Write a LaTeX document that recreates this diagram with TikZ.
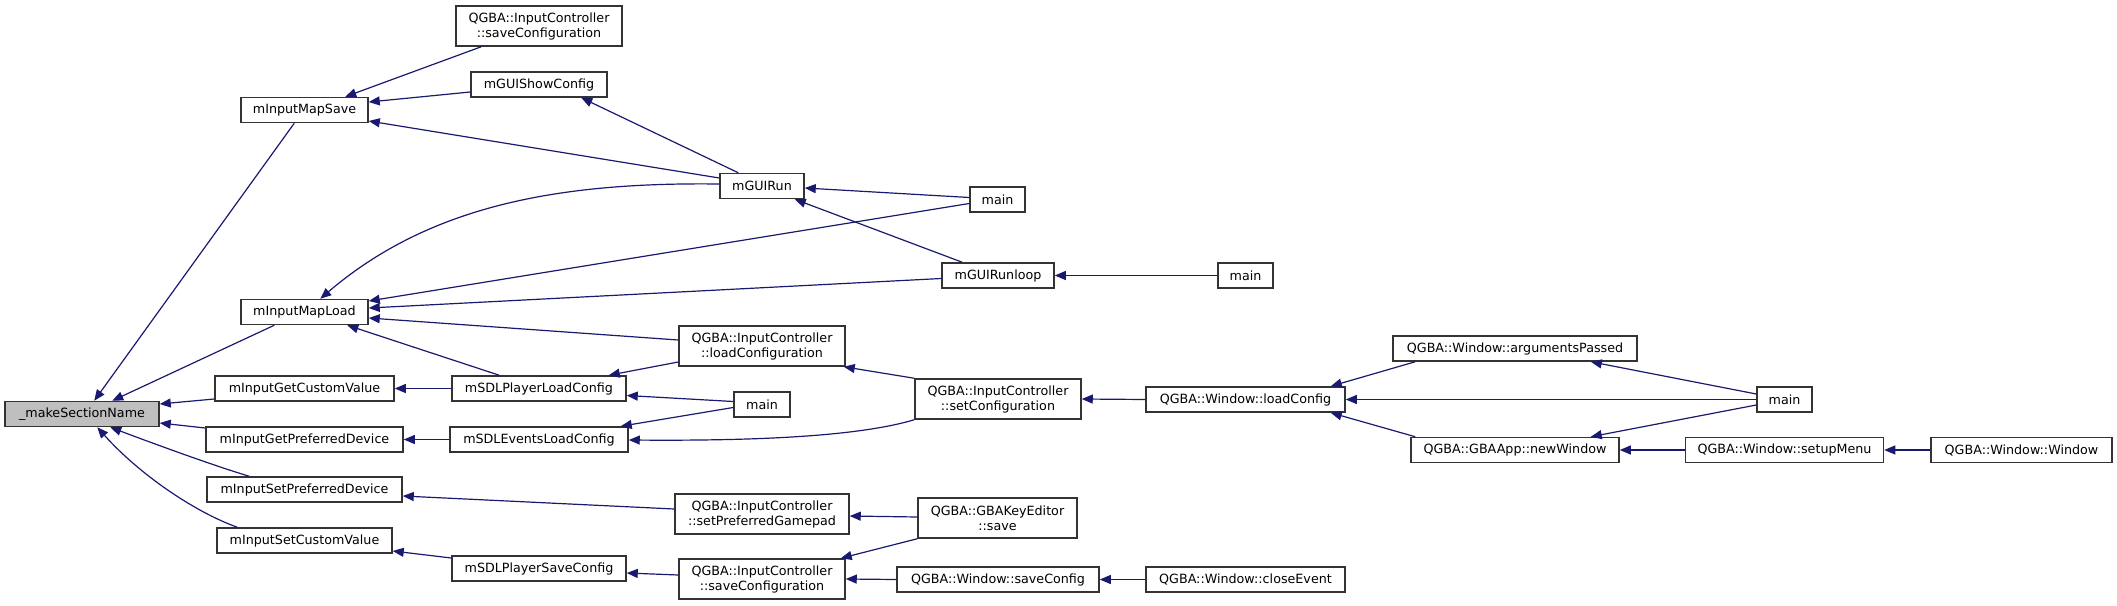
\documentclass[tikz,border=0pt]{standalone}
\usepackage{fontspec}
\setmainfont{DejaVu Sans}
\usetikzlibrary{arrows.meta,calc}
\definecolor{edgec}{HTML}{191970}
\definecolor{nodeb}{HTML}{333333}
\definecolor{selc}{HTML}{BFBFBF}
\tikzset{
  nb/.style={draw=nodeb, line width=1.5pt, fill=white, inner sep=0pt, align=center,
    font=\fontsize{12.7}{15}\selectfont},
  one/.style={minimum height=25pt},
  two/.style={minimum height=40pt},
  ed/.style={draw=edgec, line width=1.2pt, -{Triangle[length=11pt,width=9pt]}},
}
\begin{document}
\begin{tikzpicture}[x=1pt,y=-1pt]
\useasboundingbox (0,0) rectangle (2117,605);
% column 0
\node[nb, one, fill=selc, minimum width=154pt] (mSN) at (82,414) {\_makeSectionName};
% column 1
\node[nb, one, minimum width=127pt] (mIMS) at (304.5,110) {mInputMapSave};
\node[nb, one, minimum width=127pt] (mIML) at (304.5,312) {mInputMapLoad};
\node[nb, one, minimum width=179pt] (mIGCV) at (304.5,388.5) {mInputGetCustomValue};
\node[nb, one, minimum width=197pt] (mIGPD) at (304.5,439.5) {mInputGetPreferredDevice};
\node[nb, one, minimum width=195pt] (mISPD) at (304.5,489.5) {mInputSetPreferredDevice};
\node[nb, one, minimum width=175pt] (mISCV) at (304.5,540.5) {mInputSetCustomValue};
% column 2
\node[nb, two, minimum width=166pt] (icSaveTop) at (539,26) {QGBA::InputController\\::saveConfiguration};
\node[nb, one, minimum width=136pt] (mGSC) at (539,84.5) {mGUIShowConfig};
\node[nb, one, minimum width=174pt] (mSPLC) at (539,388.5) {mSDLPlayerLoadConfig};
\node[nb, one, minimum width=178pt] (mSELC) at (539,439.5) {mSDLEventsLoadConfig};
\node[nb, one, minimum width=174pt] (mSPSC) at (539,568.5) {mSDLPlayerSaveConfig};
% column 3
\node[nb, one, minimum width=84pt] (mGUIRun) at (762,186) {mGUIRun};
\node[nb, two, minimum width=166pt] (icLoad) at (762,346) {QGBA::InputController\\::loadConfiguration};
\node[nb, one, minimum width=56pt] (mainC) at (762,404.5) {main};
\node[nb, two, minimum width=174pt] (icSPG) at (762,514) {QGBA::InputController\\::setPreferredGamepad};
\node[nb, two, minimum width=166pt] (icSave) at (762,579) {QGBA::InputController\\::saveConfiguration};
% column 4
\node[nb, one, minimum width=55pt] (mainA) at (997.5,199.5) {main};
\node[nb, one, minimum width=112pt] (mGRL) at (998,275.5) {mGUIRunloop};
\node[nb, two, minimum width=166pt] (icSet) at (998,399) {QGBA::InputController\\::setConfiguration};
\node[nb, two, minimum width=159pt] (kES) at (997.5,518) {QGBA::GBAKeyEditor\\::save};
\node[nb, one, minimum width=202pt] (wSC) at (998,579.5) {QGBA::Window::saveConfig};
% column 5
\node[nb, one, minimum width=55pt] (mainB) at (1245.5,275.5) {main};
\node[nb, one, minimum width=199pt] (wLC) at (1245.5,399.5) {QGBA::Window::loadConfig};
\node[nb, one, minimum width=199pt] (wCE) at (1245.5,579.5) {QGBA::Window::closeEvent};
% column 6
\node[nb, one, minimum width=244pt] (argP) at (1515,348.5) {QGBA::Window::argumentsPassed};
\node[nb, one, minimum width=208pt] (newW) at (1515,450) {QGBA::GBAApp::newWindow};
% column 7
\node[nb, one, minimum width=55pt] (mainD) at (1784.5,399.5) {main};
\node[nb, one, minimum width=198pt] (setupM) at (1784.5,450) {QGBA::Window::setupMenu};
% column 8
\node[nb, one, minimum width=181pt] (wW) at (2021.5,450) {QGBA::Window::Window};

% edges into _makeSectionName
\draw[ed] ($(mIMS.south west)+(54,0)$) -- ($(mSN.north west)+(90,0)$);
\draw[ed] ($(mIML.south west)+(34,0)$) -- ($(mSN.north west)+(108,0)$);
\draw[ed] ($(mIGCV.west)+(0,10.5)$) -- ($(mSN.east)+(0,-10)$);
\draw[ed] ($(mIGPD.west)+(0,-11.5)$) -- ($(mSN.east)+(0,9)$);
\draw[ed] ($(mISPD.north west)+(43,0)$) .. controls (215,466) and (160,446) .. ($(mSN.south west)+(106,0)$);
\draw[ed] ($(mISCV.north west)+(21,0)$) .. controls (195,512) and (140,475) .. ($(mSN.south west)+(93,0)$);
% into mInputMapSave
\draw[ed] ($(icSaveTop.south west)+(26,0)$) -- ($(mIMS.north west)+(105,0)$);
\draw[ed] ($(mGSC.west)+(0,7.5)$) -- ($(mIMS.east)+(0,-8)$);
\draw[ed] ($(mGUIRun.west)+(0,-8)$) -- ($(mIMS.east)+(0,11)$);
% into mGUIShowConfig
\draw[ed] ($(mGUIRun.north west)+(19,0)$) -- ($(mGSC.south west)+(111,0)$);
% into mInputMapLoad
\draw[ed] ($(mGUIRun.west)+(0,-2)$) .. controls (560,182) and (430,205) .. ($(mIML.north west)+(80,0)$);
\draw[ed] ($(mainA.west)+(0,4)$) -- ($(mIML.east)+(0,-11)$);
\draw[ed] ($(mGRL.west)+(0,3)$) -- ($(mIML.east)+(0,-4)$);
\draw[ed] ($(icLoad.west)+(0,-6)$) -- ($(mIML.east)+(0,6)$);
\draw[ed] ($(mSPLC.north west)+(48,0)$) -- ($(mIML.south west)+(107,0)$);
% into mGUIRun
\draw[ed] ($(mainA.west)+(0,-2)$) -- ($(mGUIRun.east)+(0,2)$);
\draw[ed] ($(mGRL.north west)+(21,0)$) -- ($(mGUIRun.south east)+(-10,0)$);
% into mGUIRunloop
\draw[ed] (mainB.west) -- (mGRL.east);
% into mInputGetCustomValue / mSDLPlayerLoadConfig
\draw[ed] (mSPLC.west) -- (mIGCV.east);
\draw[ed] ($(icLoad.west)+(0,16)$) -- ($(mSPLC.north east)+(-18,0)$);
\draw[ed] ($(mainC.west)+(0,-3)$) -- ($(mSPLC.east)+(0,7)$);
% into mInputGetPreferredDevice / mSDLEventsLoadConfig
\draw[ed] (mSELC.west) -- (mIGPD.east);
\draw[ed] ($(mainC.west)+(0,3)$) -- ($(mSELC.north east)+(-8,0)$);
\draw[ed] (icSet.south west) .. controls (860,436) and (760,441) .. ($(mSELC.east)+(0,0.5)$);
% into loadConfiguration / setConfiguration
\draw[ed] (icSet.north west) -- ($(icLoad.south east)+(-2,0)$);
\draw[ed] (wLC.west) -- (icSet.east);
% into Window::loadConfig
\draw[ed] ($(argP.south west)+(23,0)$) -- ($(wLC.north east)+(-15,0)$);
\draw[ed] (mainD.west) -- (wLC.east);
\draw[ed] ($(newW.north west)+(5,0)$) -- ($(wLC.south east)+(-15,0)$);
% into argumentsPassed / newWindow
\draw[ed] ($(mainD.west)+(0,-5.5)$) -- ($(argP.south east)+(-47,0)$);
\draw[ed] ($(mainD.west)+(0,5.5)$) -- ($(newW.north east)+(-29,0)$);
\draw[ed] (setupM.west) -- (newW.east);
\draw[ed] (wW.west) -- (setupM.east);
% lower part
\draw[ed] ($(icSPG.west)+(0,-5)$) -- ($(mISPD.east)+(0,6.5)$);
\draw[ed] ($(kES.west)+(0,-1)$) -- ($(icSPG.east)+(0,2)$);
\draw[ed] ($(mSPSC.west)+(0,-10.5)$) -- ($(mISCV.east)+(0,10.5)$);
\draw[ed] ($(icSave.west)+(0,-4)$) -- ($(mSPSC.east)+(0,4.5)$);
\draw[ed] (kES.south west) -- ($(icSave.north east)+(-5,0)$);
\draw[ed] (wSC.west) -- (icSave.east);
\draw[ed] (wCE.west) -- (wSC.east);
\end{tikzpicture}
\end{document}
